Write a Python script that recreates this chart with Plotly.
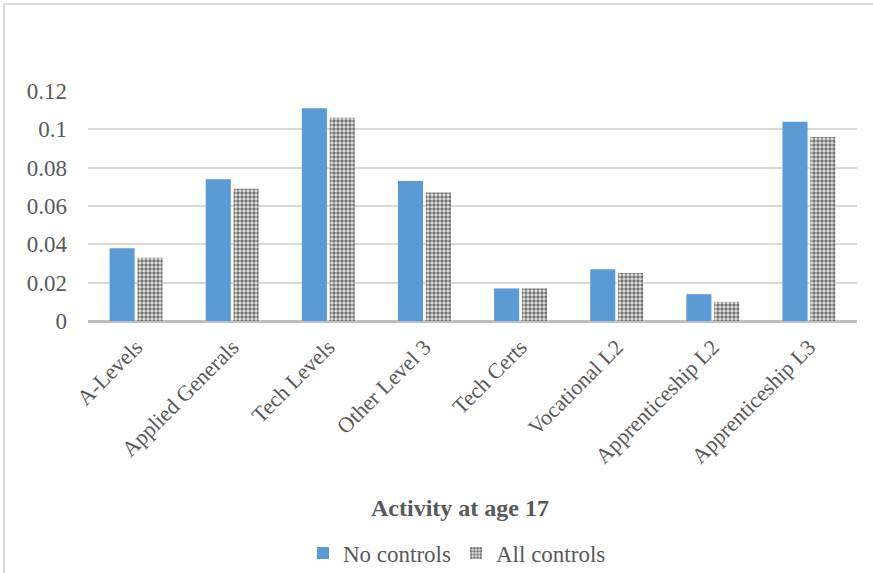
import plotly.graph_objects as go

categories = ["A-Levels", "Applied Generals", "Tech Levels", "Other Level 3",
              "Tech Certs", "Vocational L2", "Apprenticeship L2", "Apprenticeship L3"]
no_controls = [0.038, 0.074, 0.111, 0.073, 0.017, 0.027, 0.014, 0.104]
all_controls = [0.033, 0.069, 0.106, 0.067, 0.017, 0.025, 0.010, 0.096]
y_ticks = [0, 0.02, 0.04, 0.06, 0.08, 0.1, 0.12]
y_tick_text = ["0", "0.02", "0.04", "0.06", "0.08", "0.1", "0.12"]

FONT = "Liberation Serif, Times New Roman, serif"

fig = go.Figure()
fig.add_trace(go.Bar(
    name="No controls", x=categories, y=no_controls,
    marker=dict(color="#5b9bd5", line=dict(width=0)),
))
fig.add_trace(go.Bar(
    name="All controls", x=categories, y=all_controls,
    marker=dict(color="white", line=dict(width=0),
                pattern=dict(shape=".", fgcolor="#000000", bgcolor="#e6e6e6",
                             size=4, solidity=0.6)),
))

L, R, T, B = 88, 16, 91, 252
W, H = 873, 573
pw = W - L - R
ph = H - T - B

fig.update_layout(
    width=W, height=H,
    margin=dict(l=L, r=R, t=T, b=B, autoexpand=False),
    paper_bgcolor="white", plot_bgcolor="white",
    barmode="group", bargap=0.42, bargroupgap=0.1,
    font=dict(family=FONT, color="#595959"),
    showlegend=True,
    legend=dict(orientation="h", xref="container", yref="container",
                x=457 / W, xanchor="center", y=1 - 553 / H, yanchor="middle",
                font=dict(size=23, family=FONT, color="#595959"),
                itemwidth=30, traceorder="normal"),
    xaxis=dict(tickangle=-45, tickfont=dict(size=22, family=FONT, color="#595959"),
               showgrid=False, showline=False, ticks="", fixedrange=True,
               automargin=False, ticklabelstandoff=8),
    yaxis=dict(range=[0, 0.12], tickvals=y_ticks, ticktext=y_tick_text,
               tickfont=dict(size=23, family=FONT, color="#595959"),
               showgrid=True, gridcolor="#d9d9d9", gridwidth=2,
               zeroline=True, zerolinecolor="#bfbfbf", zerolinewidth=3,
               showline=False, ticks="", ticklabelstandoff=20, automargin=False,
               fixedrange=True),
    annotations=[dict(text="<b>Activity at age 17</b>", xref="paper", yref="paper",
                      x=(460 - L) / pw, y=(H - B - 508) / ph, xanchor="center", yanchor="middle",
                      showarrow=False, font=dict(size=24, family=FONT, color="#595959"))],
    shapes=[
        dict(type="line", xref="paper", yref="paper",
             x0=(4 - L) / pw, x1=1.1, y0=(H - B - 4) / ph, y1=(H - B - 4) / ph,
             line=dict(color="#d9d9d9", width=2)),
        dict(type="line", xref="paper", yref="paper",
             x0=(4 - L) / pw, x1=(4 - L) / pw, y0=(H - B - 4) / ph, y1=-1.2,
             line=dict(color="#d9d9d9", width=2)),
    ],
)

fig.write_html("out.html", config={"displayModeBar": False},
               post_script="document.body.style.margin='0';document.body.style.overflow='hidden';")
